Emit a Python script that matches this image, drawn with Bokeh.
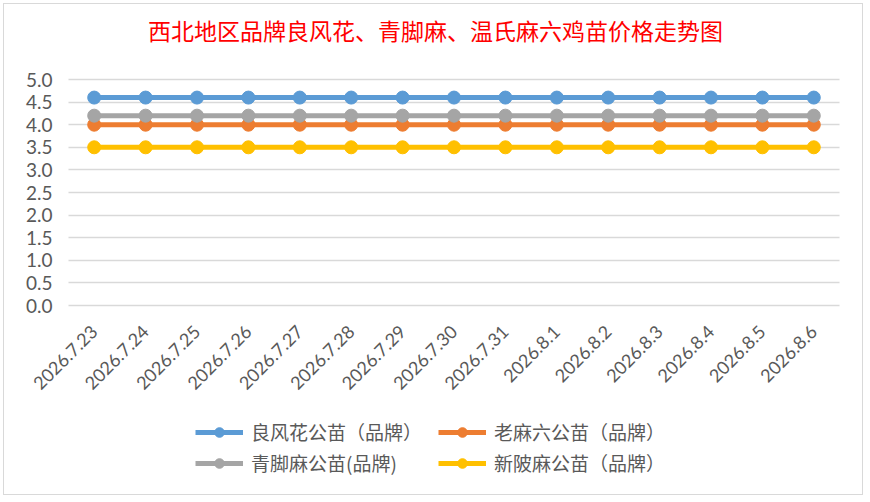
import math
from bokeh.plotting import figure
from bokeh.models import Range1d, Legend, LegendItem, Label, FixedTicker, CustomJSTickFormatter
from bokeh.embed import file_html
from bokeh.resources import INLINE

dates = ["2026.7.23", "2026.7.24", "2026.7.25", "2026.7.26", "2026.7.27", "2026.7.28",
         "2026.7.29", "2026.7.30", "2026.7.31", "2026.8.1", "2026.8.2", "2026.8.3",
         "2026.8.4", "2026.8.5", "2026.8.6"]
liangfenghua = [4.6] * 15
laomaliu = [4.0] * 15
qingjiaoma = [4.2] * 15
xinpima = [3.5] * 15
y_ticks = [0.0, 0.5, 1.0, 1.5, 2.0, 2.5, 3.0, 3.5, 4.0, 4.5, 5.0]

names = ["良风花公苗（品牌）", "老麻六公苗（品牌）", "青脚麻公苗(品牌)", "新陂麻公苗（品牌）"]
colors = ["#5B9BD5", "#ED7D31", "#A5A5A5", "#FFC000"]
series = [liangfenghua, laomaliu, qingjiaoma, xinpima]
title_text = "西北地区品牌良风花、青脚麻、温氏麻六鸡苗价格走势图"

# category slots: each date occupies one unit, point at the slot centre
xpos = [i + 0.5 for i in range(len(dates))]

W, H = 860, 492
LEFT_PX, RIGHT_PX = 64, 835          # plot area edges (category axis)
TOP_PX, ZERO_PX = 75, 301            # y=5.0 and y=0.0 lines
xpu = (RIGHT_PX - LEFT_PX) / len(dates)
upp = 5.0 / (ZERO_PX - TOP_PX)

p = figure(width=W, height=H,
           x_range=Range1d(-LEFT_PX / xpu, len(dates) + (W - RIGHT_PX) / xpu),
           y_range=Range1d(-(H - ZERO_PX) * upp, 5.0 + TOP_PX * upp),
           output_backend="svg", toolbar_location=None,
           min_border_left=0, min_border_right=0, min_border_top=0, min_border_bottom=0)
p.outline_line_color = None
p.styles = {"border": "1px solid #d9d9d9", "margin": "3px 0 0 3px"}

p.xgrid.grid_line_color = None
p.ygrid.grid_line_color = "#D9D9D9"
p.ygrid.grid_line_width = 1.3
p.ygrid.cross_bounds = (0, len(dates))
p.yaxis.ticker = FixedTicker(ticks=y_ticks)
p.yaxis.formatter = CustomJSTickFormatter(code="return tick.toFixed(1);")
p.yaxis.fixed_location = 0
p.xaxis.ticker = FixedTicker(ticks=xpos)
p.xaxis.formatter = CustomJSTickFormatter(args=dict(labels=dates),
                                          code="return labels[Math.round(tick - 0.5)];")
p.xaxis.fixed_location = 0
for ax in (p.xaxis, p.yaxis):
    ax.axis_line_color = None
    ax.major_tick_line_color = None
    ax.minor_tick_line_color = None
    ax.major_label_text_color = "#595959"
    ax.major_label_text_font = "Lato"
p.yaxis.major_label_text_font_size = "19px"
p.yaxis.major_label_standoff = 10
p.xaxis.major_label_text_font_size = "18px"
p.xaxis.major_label_orientation = math.pi / 4
p.xaxis.major_label_standoff = 17

items = []
for nm, col, vals in zip(names, colors, series):
    r1 = p.line(xpos, vals, line_color=col, line_width=5)
    r2 = p.scatter(xpos, vals, size=13, fill_color=col, line_color=col)
    items.append(LegendItem(label=nm, renderers=[r1, r2]))

lg = Legend(items=items, orientation="horizontal", ncols=2, location=(191, 20),
            glyph_width=48, glyph_height=24, label_standoff=8, label_width=183,
            spacing=4, padding=0, margin=0,
            label_text_font="Noto Sans CJK SC", label_text_font_size="19px",
            label_text_color="#595959", border_line_color=None,
            background_fill_alpha=0)
p.add_layout(lg, "center")

p.add_layout(Label(x=(435 - 4) / xpu - LEFT_PX / xpu, y=5.0 + (TOP_PX - 25) * upp,
                   text=title_text, text_align="center",
                   text_baseline="middle", text_color="#FF0000",
                   text_font="Noto Sans CJK SC", text_font_size="23px"))

open("out.html", "w").write(file_html(p, INLINE))
